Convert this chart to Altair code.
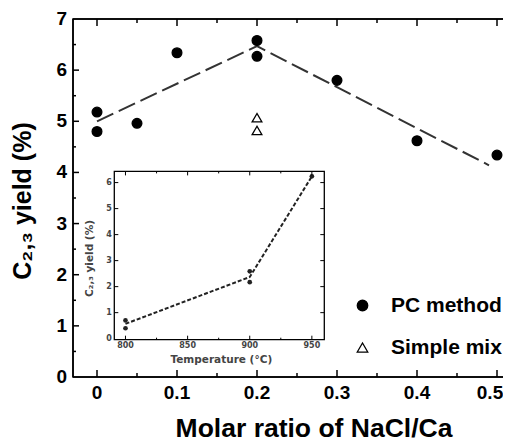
import altair as alt
import pandas as pd

# ---- data ----
pc_x = [0, 0, 0.05, 0.1, 0.2, 0.2, 0.3, 0.4, 0.5]
pc_y = [5.18, 4.80, 4.96, 6.34, 6.58, 6.27, 5.80, 4.62, 4.34]
mix_x = [0.2, 0.2]
mix_y = [5.07, 4.82]
fit_x = [0, 0.2, 0.49]
fit_y = [5.00, 6.47, 4.14]

inset_t = [800, 800, 900, 900, 950]
inset_v = [0.70, 0.40, 2.59, 2.17, 6.24]
inset_fit_t = [800, 900, 950]
inset_fit_v = [0.57, 2.37, 6.24]

x_major = [0, 0.1, 0.2, 0.3, 0.4]
x_last = [0.5]
x_minor = [0.05, 0.15, 0.25, 0.35, 0.45]
y_major = [0, 1, 2, 3, 4, 5, 6, 7]
y_minor = [0.5, 1.5, 2.5, 3.5, 4.5, 5.5, 6.5]
in_x_major = [800, 850, 900, 950]
in_x_minor = [825, 875, 925]
in_y_major = [0, 1, 2, 3, 4, 5, 6]

series_names = ["PC method", "Simple mix"]
main_x_title = "Molar ratio of NaCl/Ca"
main_y_title = "C₂‚₃ yield (%)"
inset_x_title = "Temperature (°C)"
inset_y_title = "C₂‚₃ yield (%)"

# ---- geometry ----
W, H = 440, 358
X_DOM = [-0.03, 0.52]
Y_DOM = [0, 7]
IN_L, IN_R, IN_T, IN_B = 41.3, 251.3, 152.4, 320.7
IN_X_DOM = [791, 960]
IN_Y_DOM = [-0.04, 6.43]
FONT = "Liberation Sans"
IFONT = "DejaVu Sans"
ICOL = "#444444"

X_main = alt.X("x:Q", scale=alt.Scale(domain=X_DOM, nice=False, zero=False), axis=None)
Y_main = alt.Y("y:Q", scale=alt.Scale(domain=Y_DOM, nice=False, zero=False), axis=None)

pts = pd.DataFrame({
    "x": pc_x + mix_x,
    "y": pc_y + mix_y,
    "series": [series_names[0]] * len(pc_x) + [series_names[1]] * len(mix_x),
})
fit = pd.DataFrame({"x": fit_x, "y": fit_y})

fit_line = alt.Chart(fit).mark_line(color="#333333", strokeWidth=2, strokeDash=[18, 6]).encode(
    x=X_main, y=Y_main)

leg = alt.Legend(title=None, orient="none", legendX=279, legendY=276,
                 labelFontSize=21, labelFontWeight="bold", labelFont=FONT,
                 labelColor="black", symbolSize=110, symbolStrokeWidth=1.3,
                 rowPadding=20, labelOffset=18)

points = alt.Chart(pts).mark_point(filled=True, strokeWidth=1.3, opacity=1, size=95).encode(
    x=X_main, y=Y_main,
    shape=alt.Shape("series:N", scale=alt.Scale(domain=series_names, range=["circle", "triangle-up"]),
                    legend=leg),
    fill=alt.Fill("series:N", scale=alt.Scale(domain=series_names, range=["black", "white"]),
                  legend=leg),
    stroke=alt.Stroke("series:N", scale=alt.Scale(domain=series_names, range=["black", "black"]),
                      legend=leg),
)

# main axis labels and titles as text
def fmt(v):
    return f"{v:g}"

x_lab = alt.Chart(pd.DataFrame({"x": x_major, "lab": [fmt(v) for v in x_major]})).mark_text(
    font=FONT, fontSize=19, fontWeight="bold", color="black", baseline="top", align="center").encode(
    x=X_main, y=alt.value(H + 7), text="lab:N")
x_lab_last = alt.Chart(pd.DataFrame({"x": x_last, "lab": [fmt(v) for v in x_last]})).mark_text(
    font=FONT, fontSize=19, fontWeight="bold", color="black", baseline="top", align="center",
    dx=-7).encode(x=X_main, y=alt.value(H + 7), text="lab:N")
y_lab = alt.Chart(pd.DataFrame({"y": y_major, "lab": [fmt(v) for v in y_major]})).mark_text(
    font=FONT, fontSize=19, fontWeight="bold", color="black", baseline="middle", align="right").encode(
    y=Y_main, x=alt.value(-6), text="lab:N")
x_title = alt.Chart(pd.DataFrame({"lab": [main_x_title]})).mark_text(
    font=FONT, fontSize=26.5, fontWeight="bold", color="black", baseline="alphabetic",
    align="center").encode(x=alt.value(241), y=alt.value(H + 60), text="lab:N")
y_title = alt.Chart(pd.DataFrame({"lab": [main_y_title]})).mark_text(
    font=FONT, fontSize=25, fontWeight="bold", color="black", baseline="alphabetic",
    align="center", angle=270).encode(x=alt.value(-42), y=alt.value(182), text="lab:N")

# frame (right border lies outside the picture) and inward ticks
one = pd.DataFrame({"k": [0]})
frame_top = alt.Chart(one).mark_rule(color="black", strokeWidth=1.5).encode(
    x=alt.value(0), x2=alt.value(W), y=alt.value(0))
frame_bottom = alt.Chart(one).mark_rule(color="black", strokeWidth=1.5).encode(
    x=alt.value(0), x2=alt.value(W), y=alt.value(H))
frame_left = alt.Chart(one).mark_rule(color="black", strokeWidth=1.5).encode(
    x=alt.value(0), y=alt.value(0), y2=alt.value(H))

bx_major = pd.DataFrame({"x": x_major + x_last})
bx_minor = pd.DataFrame({"x": x_minor})
ly_major = pd.DataFrame({"y": y_major[1:-1]})
ly_minor = pd.DataFrame({"y": y_minor})

def xt(df, y0, y1):
    return alt.Chart(df).mark_rule(color="black", strokeWidth=1.5).encode(
        x=X_main, y=alt.value(y0), y2=alt.value(y1))

def yt(df, x0, x1):
    return alt.Chart(df).mark_rule(color="black", strokeWidth=1.5).encode(
        y=Y_main, x=alt.value(x0), x2=alt.value(x1))

main = alt.layer(
    fit_line, points,
    xt(bx_major, H, H - 7), xt(bx_minor, H, H - 4),
    xt(bx_major, 0, 7), xt(bx_minor, 0, 4),
    yt(ly_major, 0, 6), yt(ly_minor, 0, 3),
    frame_top, frame_bottom, frame_left,
    x_lab, x_lab_last, y_lab, x_title, y_title,
)

# ---- inset (own scales, labels drawn as text) ----
X_in = alt.X("t:Q", scale=alt.Scale(domain=IN_X_DOM, range=[IN_L, IN_R], nice=False, zero=False),
             axis=None)
Y_in = alt.Y("v:Q", scale=alt.Scale(domain=IN_Y_DOM, range=[IN_B, IN_T], nice=False, zero=False),
             axis=None)

frame = pd.DataFrame({"t": [IN_X_DOM[0]], "t2": [IN_X_DOM[1]], "v": [IN_Y_DOM[0]], "v2": [IN_Y_DOM[1]]})
in_frame = alt.Chart(frame).mark_rect(fill="white", stroke="black", strokeWidth=1.3).encode(
    x=X_in, x2="t2:Q", y=Y_in, y2="v2:Q")

in_fit = alt.Chart(pd.DataFrame({"t": inset_fit_t, "v": inset_fit_v})).mark_line(
    color="#222222", strokeWidth=2, strokeDash=[4, 2]).encode(x=X_in, y=Y_in)
in_pts = alt.Chart(pd.DataFrame({"t": inset_t, "v": inset_v})).mark_point(
    filled=True, color="#222222", size=22, opacity=1).encode(x=X_in, y=Y_in)

def ixt(vals, y0, y1):
    return alt.Chart(pd.DataFrame({"t": vals})).mark_rule(color="black", strokeWidth=1).encode(
        x=X_in, y=alt.value(y0), y2=alt.value(y1))

def iyt(vals, x0, x1):
    return alt.Chart(pd.DataFrame({"v": vals})).mark_rule(color="black", strokeWidth=1).encode(
        y=Y_in, x=alt.value(x0), x2=alt.value(x1))

in_xlab = alt.Chart(pd.DataFrame({"t": in_x_major, "lab": [str(v) for v in in_x_major]})).mark_text(
    font=IFONT, fontSize=8, fontWeight="bold", color=ICOL, baseline="top", align="center").encode(
    x=X_in, y=alt.value(IN_B + 2.5), text="lab:N")
in_ylab = alt.Chart(pd.DataFrame({"v": in_y_major, "lab": [str(v) for v in in_y_major]})).mark_text(
    font=IFONT, fontSize=8, fontWeight="bold", color=ICOL, baseline="middle", align="right").encode(
    y=Y_in, x=alt.value(IN_L - 2.5), text="lab:N")
in_xtitle = alt.Chart(pd.DataFrame({"lab": [inset_x_title]})).mark_text(
    font=IFONT, fontSize=10.5, fontWeight="bold", color=ICOL, baseline="middle", align="center").encode(
    x=alt.value((IN_L + IN_R) / 2 + 2), y=alt.value(IN_B + 20.5), text="lab:N")
in_ytitle = alt.Chart(pd.DataFrame({"lab": [inset_y_title]})).mark_text(
    font=IFONT, fontSize=10.5, fontWeight="bold", color=ICOL, baseline="middle", align="center",
    angle=270).encode(
    x=alt.value(IN_L - 24), y=alt.value((IN_T + IN_B) / 2 + 3), text="lab:N")

inset = alt.layer(
    in_frame, in_fit, in_pts,
    ixt(in_x_major, IN_B, IN_B - 4), ixt(in_x_minor, IN_B, IN_B - 2),
    ixt(in_x_major, IN_T, IN_T + 4), ixt(in_x_minor, IN_T, IN_T + 2),
    iyt(in_y_major[1:], IN_L, IN_L + 4), iyt(in_y_major[1:], IN_R, IN_R - 4),
    in_xlab, in_ylab, in_xtitle, in_ytitle,
)

chart = alt.layer(inset, main).resolve_scale(x="independent", y="independent").properties(
    width=W, height=H, autosize="none",
    padding={"left": 65, "top": 11, "right": -10, "bottom": 66},
).configure(font=FONT).configure_view(stroke="black", strokeWidth=1.5)

chart.save("out.html", embed_options={"renderer": "svg", "actions": False})
